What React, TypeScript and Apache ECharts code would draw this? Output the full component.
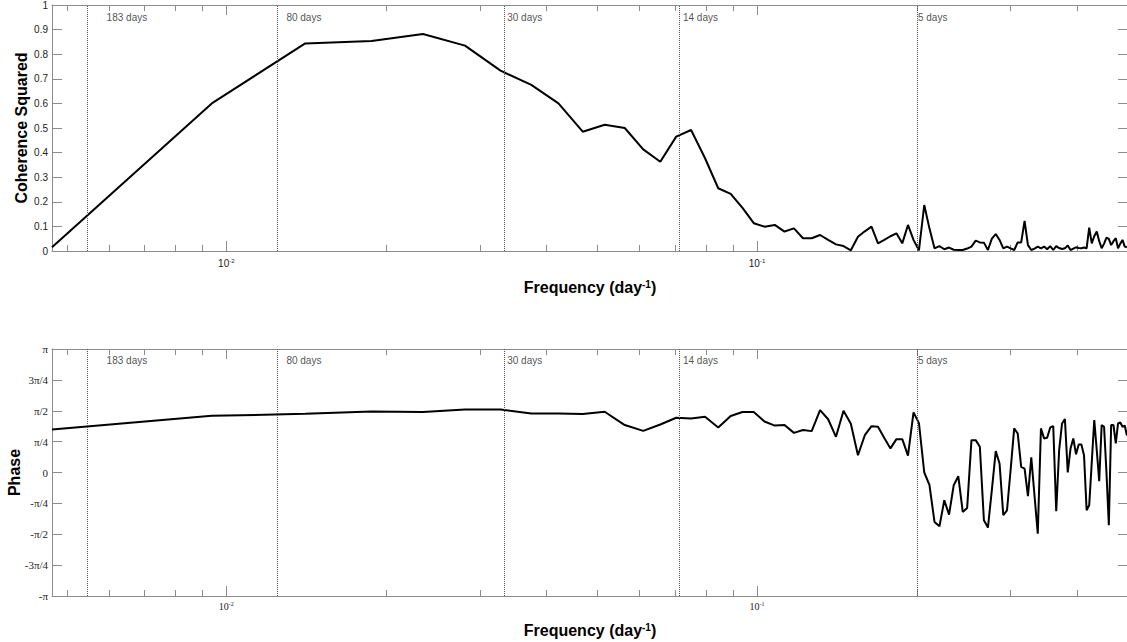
import React, { useEffect, useRef } from "react";
import * as echarts from "echarts";

// ---- data ----
// Frequency bins are k / RECORD_DAYS (k = 1..106), cycles per day.
const RECORD_DAYS = 213;
const F_MAX = 0.5;

const COHERENCE = [
  0.015, 0.6, 0.844, 0.854, 0.882, 0.835, 0.733, 0.675, 0.6, 0.485,
  0.513, 0.5, 0.413, 0.363, 0.465, 0.492, 0.377, 0.255, 0.232, 0.175,
  0.113, 0.099, 0.106, 0.079, 0.092, 0.052, 0.052, 0.065, 0.045, 0.027,
  0.02, 0.003, 0.058, 0.08, 0.099, 0.031, 0.045, 0.06, 0.072, 0.031,
  0.106, 0.045, 0.003, 0.187, 0.092, 0.011, 0.02, 0.007, 0.014, 0.005,
  0.004, 0.004, 0.01, 0.018, 0.042, 0.035, 0.034, 0.004, 0.05, 0.069,
  0.045, 0.011, 0.018, 0.011, 0.004, 0.035, 0.035, 0.122, 0.024, 0.004,
  0.01, 0.018, 0.011, 0.018, 0.007, 0.02, 0.004, 0.02, 0.012, 0.008,
  0.011, 0.022, 0.004, 0.01, 0.015, 0.012, 0.011, 0.014, 0.011, 0.095,
  0.031, 0.06, 0.079, 0.04, 0.011, 0.03, 0.054, 0.049, 0.024, 0.04,
  0.052, 0.011, 0.03, 0.045, 0.018, 0.015,
];

// Phase in units of pi
const PHASE_PI = [
  0.349, 0.459, 0.475, 0.493, 0.49, 0.51, 0.51, 0.477, 0.477, 0.473,
  0.492, 0.384, 0.337, 0.389, 0.443, 0.438, 0.451, 0.365, 0.457, 0.49,
  0.49, 0.413, 0.38, 0.384, 0.321, 0.344, 0.335, 0.505, 0.431, 0.289,
  0.5, 0.395, 0.14, 0.302, 0.375, 0.37, 0.28, 0.195, 0.27, 0.27,
  0.137, 0.487, 0.4, 0.0, -0.1, -0.4, -0.435, -0.225, -0.341, -0.103,
  -0.03, -0.319, -0.287, 0.262, 0.262, 0.208, -0.387, -0.446, -0.14, 0.173,
  0.073, -0.346, -0.306, 0.02, 0.357, 0.316, 0.045, 0.032, -0.192, 0.122,
  -0.19, -0.495, 0.357, 0.276, 0.281, 0.365, 0.376, -0.314, 0.181, 0.397,
  0.432, 0.0, 0.195, 0.276, 0.148, 0.227, 0.227, 0.14, -0.306, -0.265,
  0.08, 0.424, 0.18, -0.071, 0.384, 0.37, 0.0, -0.427, 0.384, 0.384,
  0.235, 0.397, 0.405, 0.37, 0.38, 0.3,
];

const PERIOD_DAYS = [183, 80, 30, 14, 5];
const PERIOD_LABELS = ["183 days", "80 days", "30 days", "14 days", "5 days"];
const PERIOD_LABEL_FREQ = [0.00595, 0.01298, 0.03383, 0.07252, 0.201];
const COH_LABEL_Y = 0.951;
const PHASE_LABEL_Y = 0.903;

const PHASE_TICK_LABELS = ["-π", "-3π/4", "-π/2", "-π/4", "0", "π/4", "π/2", "3π/4", "π"];
const MINOR_MULTIPLIERS = [2, 3, 4, 5, 6, 7, 8, 9];
const DECADES = [-3, -2, -1];

// ---- styling ----
const SANS = "'Liberation Sans', Arial, Helvetica, sans-serif";
const SERIF = "'Liberation Serif', 'Times New Roman', serif";
const AXIS_GRAY = "#8c8c8c";
const LABEL_COLOR = "#222";

const F_MIN = 1 / RECORD_DAYS;

const MINOR_FREQ: number[] = [];
DECADES.forEach((e) =>
  MINOR_MULTIPLIERS.forEach((m) => {
    const v = m * Math.pow(10, e);
    if (v > F_MIN && v < F_MAX) MINOR_FREQ.push(v);
  })
);

const freq = COHERENCE.map((_, i) => (i + 1) / RECORD_DAYS);

const nameStyle = {
  fontFamily: SANS,
  fontSize: 16,
  fontWeight: "bold" as const,
  color: "#000",
  rich: {
    sup: {
      fontFamily: SANS,
      fontSize: 10,
      fontWeight: "bold" as const,
      color: "#000",
      verticalAlign: "top" as const,
      padding: [0, 0, 7, 0],
    },
  },
};

function xAxes(gridIndex: number, labelFont: string, labelMargin: number, nameGap: number) {
  const line = { show: true, onZero: false, lineStyle: { color: AXIS_GRAY, width: 1 } };
  const majorTick = { show: true, inside: true, length: 10, lineStyle: { color: AXIS_GRAY } };
  return [
    {
      type: "log",
      logBase: 10,
      gridIndex,
      position: "bottom",
      min: F_MIN,
      max: F_MAX,
      axisLine: line,
      axisTick: majorTick,
      splitLine: { show: false },
      minorTick: { show: false },
      axisLabel: {
        show: true,
        showMinLabel: false,
        showMaxLabel: false,
        margin: labelMargin,
        fontFamily: labelFont,
        fontSize: 10,
        color: LABEL_COLOR,
        formatter: (v: number) => `10{s|${Math.round(Math.log10(v))}}`,
        rich: {
          s: { fontFamily: labelFont, fontSize: 6, color: LABEL_COLOR, verticalAlign: "top", padding: [0, 0, 5, 0] },
        },
      },
      name: "Frequency (day{sup|-1})",
      nameLocation: "middle",
      nameGap,
      nameMoveOverlap: false,
      nameTextStyle: nameStyle,
    },
    {
      type: "log",
      logBase: 10,
      gridIndex,
      position: "top",
      min: F_MIN,
      max: F_MAX,
      axisLine: line,
      axisTick: majorTick,
      splitLine: { show: false },
      axisLabel: { show: false },
    },
  ];
}

function yAxes(
  gridIndex: number,
  min: number,
  max: number,
  interval: number,
  labelFont: string,
  labelSize: number,
  formatter: (v: number) => string,
  name: string,
  nameGap: number
) {
  const line = { show: true, onZero: false, lineStyle: { color: AXIS_GRAY, width: 1 } };
  const tick = { show: true, inside: true, length: 10, lineStyle: { color: AXIS_GRAY } };
  return [
    {
      type: "value",
      gridIndex,
      position: "left",
      min,
      max,
      interval,
      axisLine: line,
      axisTick: tick,
      splitLine: { show: false },
      axisLabel: { fontFamily: labelFont, fontSize: labelSize, color: LABEL_COLOR, margin: 4, formatter },
      name,
      nameLocation: "middle",
      nameGap,
      nameMoveOverlap: false,
      nameTextStyle: nameStyle,
    },
    {
      type: "value",
      gridIndex,
      position: "right",
      min,
      max,
      interval,
      axisLine: line,
      axisTick: tick,
      splitLine: { show: false },
      axisLabel: { show: false },
    },
  ];
}

const markLines = {
  silent: true,
  symbol: "none",
  animation: false,
  precision: 10,
  label: { show: false },
  lineStyle: { type: "dotted", color: "#555", width: 1 },
  data: PERIOD_DAYS.map((d) => ({ xAxis: 1 / d })),
};

function dayLabels(xAxisIndex: number, yAxisIndex: number, y: number) {
  return {
    type: "scatter",
    xAxisIndex,
    yAxisIndex,
    symbolSize: 0,
    silent: true,
    data: PERIOD_LABEL_FREQ.map((f, i) => ({ value: [f, y], name: PERIOD_LABELS[i] })),
    label: {
      show: true,
      position: [0, 0],
      align: "left",
      verticalAlign: "middle",
      formatter: "{b}",
      fontFamily: SANS,
      fontSize: 10,
      color: LABEL_COLOR,
    },
  };
}

// minor log ticks (2..9 x 10^n) on bottom and top edges of a grid
function minorTicks(xAxisIndex: number, yAxisIndex: number) {
  return {
    type: "custom",
    xAxisIndex,
    yAxisIndex,
    silent: true,
    clip: false,
    data: MINOR_FREQ.map((f) => [f, 0]),
    encode: { x: 0, y: 1 },
    renderItem: (params: any, api: any) => {
      const cs = params.coordSys;
      const x = Math.round(api.coord([api.value(0), 0])[0]) + 0.5;
      const yb = cs.y + cs.height;
      const yt = cs.y;
      const style = { stroke: AXIS_GRAY, lineWidth: 1 };
      return {
        type: "group",
        children: [
          { type: "line", shape: { x1: x, y1: yb, x2: x, y2: yb - 6 }, style },
          { type: "line", shape: { x1: x, y1: yt, x2: x, y2: yt + 6 }, style },
        ],
      };
    },
  };
}

export default function App() {
  const ref = useRef<HTMLDivElement>(null);

  useEffect(() => {
    if (!ref.current) return;
    const chart = echarts.init(ref.current, undefined, { renderer: "svg" });
    const option = {
      animation: false,
      backgroundColor: "#fff",
      grid: [
        { left: 52, top: 5, width: 1076, height: 246, outerBoundsMode: "none", containLabel: false },
        { left: 52, top: 349, width: 1076, height: 247, outerBoundsMode: "none", containLabel: false },
      ],
      xAxis: [...xAxes(0, SANS, 7, 28), ...xAxes(1, SERIF, 5, 26)],
      yAxis: [
        ...yAxes(
          0,
          0,
          1,
          0.1,
          SANS,
          10,
          (v: number) => String(Math.round(v * 10) / 10),
          "Coherence Squared",
          23
        ),
        ...yAxes(
          1,
          -1,
          1,
          0.25,
          SERIF,
          11,
          (v: number) => PHASE_TICK_LABELS[Math.round(v * 4) + 4],
          "Phase",
          30
        ),
      ],
      series: [
        minorTicks(0, 0),
        minorTicks(2, 2),
        {
          type: "line",
          xAxisIndex: 0,
          yAxisIndex: 0,
          symbol: "none",
          lineStyle: { color: "#000", width: 2 },
          data: freq.map((f, i) => [f, COHERENCE[i]]),
          markLine: markLines,
        },
        dayLabels(0, 0, COH_LABEL_Y),
        {
          type: "line",
          xAxisIndex: 2,
          yAxisIndex: 2,
          symbol: "none",
          lineStyle: { color: "#000", width: 2 },
          data: freq.map((f, i) => [f, PHASE_PI[i]]),
          markLine: markLines,
        },
        dayLabels(2, 2, PHASE_LABEL_Y),
      ],
    };
    chart.setOption(option as any);
    return () => chart.dispose();
  }, []);

  return (
    <div
      ref={ref}
      style={{ position: "absolute", left: 0, top: 0, width: 1127, height: 642, background: "#fff" }}
    />
  );
}
